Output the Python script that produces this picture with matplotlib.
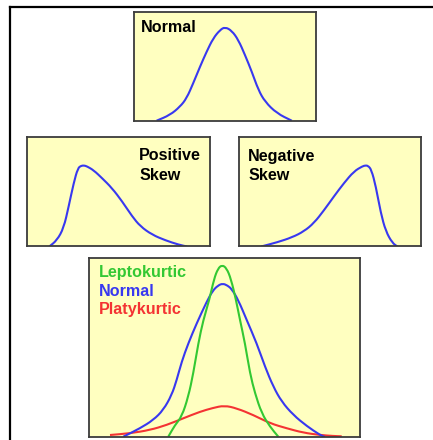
import matplotlib
matplotlib.use("Agg")
import matplotlib.pyplot as plt
from matplotlib.lines import Line2D
from matplotlib.path import Path
from matplotlib.patches import PathPatch

W, H = 433, 440
DPI = 100

# ---- data (x in arbitrary spread units, y relative height) ----
normal_x = [-3.42, -2.75, -2.25, -1.92, -1.59, -1.25, -0.92, -0.59, -0.25, 0.0, 0.34,
            0.67, 1.0, 1.34, 1.67, 2.0, 2.59, 3.34]
normal_y = [0.003, 0.06, 0.143, 0.227, 0.377, 0.543, 0.693, 0.827, 0.91, 0.94, 0.903,
            0.81, 0.66, 0.493, 0.31, 0.193, 0.077, 0.003]

pos_x = [-3.46, -3.08, -2.74, -2.49, -2.24, -2.03, -1.86, -1.72, -1.58, -1.24, -0.83, -0.33,
         0.18, 0.68, 1.09, 1.68, 2.34, 3.01, 3.43]
pos_y = [0.0, 0.062, 0.185, 0.402, 0.635, 0.785, 0.808, 0.81, 0.802, 0.762, 0.685, 0.585,
         0.452, 0.302, 0.202, 0.118, 0.062, 0.018, 0.0]

neg_x = [-3.44, -2.64, -1.89, -1.30, -0.80, -0.30, 0.20, 0.70, 1.20, 1.62, 1.76, 1.90, 2.07,
         2.29, 2.54, 2.79, 3.12, 3.37]
neg_y = [0.0, 0.042, 0.092, 0.152, 0.235, 0.362, 0.502, 0.635, 0.752, 0.802, 0.81, 0.808,
         0.768, 0.602, 0.335, 0.152, 0.035, 0.0]

lepto_x = [-2.81, -2.475, -2.14, -1.81, -1.56, -1.31, -1.06, -0.76, -0.525, -0.325, -0.125,
           0.1, 0.325, 0.575, 0.775, 1.025, 1.275, 1.525, 1.86, 2.275, 2.69]
lepto_y = [0.003, 0.12, 0.203, 0.403, 0.637, 0.937, 1.17, 1.37, 1.58, 1.685, 1.72, 1.69,
           1.58, 1.37, 1.17, 0.937, 0.637, 0.437, 0.237, 0.103, 0.003]

meso_x = [-5.06, -4.225, -3.56, -3.06, -2.64, -2.39, -2.14, -1.81, -1.39, -0.89, -0.59,
          -0.325, -0.09, 0.15, 0.36, 0.69, 1.11, 1.61, 2.025, 2.44, 2.86, 3.44, 4.11, 4.775,
          5.025]
meso_y = [0.003, 0.087, 0.17, 0.27, 0.42, 0.57, 0.753, 0.937, 1.137, 1.353, 1.463, 1.515,
          1.535, 1.515, 1.48, 1.37, 1.17, 0.937, 0.703, 0.503, 0.353, 0.22, 0.11, 0.02, 0.0]

platy_x = [-5.725, -4.725, -3.725, -2.89, -2.06, -1.225, -0.59, -0.01, 0.61, 1.44, 2.275,
           3.11, 3.94, 4.775, 5.44, 5.86]
platy_y = [0.02, 0.037, 0.07, 0.12, 0.187, 0.253, 0.29, 0.315, 0.287, 0.22, 0.137, 0.087,
           0.043, 0.02, 0.01, 0.007]

titles = ["Normal", "Positive", "Skew", "Negative", "Skew"]
legend_labels = ["Leptokurtic", "Normal", "Platykurtic"]

# ---- styles ----
FACE = "#FFFFC0"
EDGE = "#3c3c3c"
BLUE = "#3838F0"
GREEN = "#33C833"
RED = "#F43333"
LW = 1.5
FONT = dict(family=["Liberation Sans", "DejaVu Sans"], fontweight="bold", fontsize=11.6)

fig = plt.figure(figsize=(W / DPI, H / DPI), dpi=DPI)
fig.patch.set_facecolor("white")


def box(x0, y0, x1, y1, xlim, ylim):
    ax = fig.add_axes([x0 / W, 1 - y1 / H, (x1 - x0) / W, (y1 - y0) / H])
    ax.set_facecolor(FACE)
    ax.set_xlim(*xlim)
    ax.set_ylim(*ylim)
    ax.set_xticks([])
    ax.set_yticks([])
    for s in ax.spines.values():
        s.set_color(EDGE)
        s.set_linewidth(1.3)
    return ax


def smooth_curve(ax, xs, ys, color):
    """Draw a curve through the read points, rounding the corners with quadratic Beziers."""
    pts = list(zip(xs, ys))
    verts = [pts[0]]
    codes = [Path.MOVETO]
    mids = [((pts[i][0] + pts[i + 1][0]) / 2, (pts[i][1] + pts[i + 1][1]) / 2)
            for i in range(len(pts) - 1)]
    verts.append(mids[0])
    codes.append(Path.LINETO)
    for i in range(1, len(pts) - 1):
        verts += [pts[i], mids[i]]
        codes += [Path.CURVE3, Path.CURVE3]
    verts.append(pts[-1])
    codes.append(Path.LINETO)
    patch = PathPatch(Path(verts, codes), facecolor="none", edgecolor=color, lw=LW,
                      joinstyle="round", capstyle="butt")
    ax.add_patch(patch)


def ftext(x, y, s, color="black"):
    fig.text(x / W, 1 - y / H, s, color=color, ha="left", va="baseline", **FONT)


# outer frame lines
fig.add_artist(Line2D([10 / W, 1.0], [1 - 7 / H, 1 - 7 / H], color="black", lw=1.6,
                      transform=fig.transFigure))
fig.add_artist(Line2D([10 / W, 10 / W], [1 - 7 / H, 0.0], color="black", lw=1.6,
                      transform=fig.transFigure))

ax1 = box(134, 12, 316, 121, (-4.55, 4.55), (0, 1.09))
smooth_curve(ax1, normal_x, normal_y, BLUE)

ax2 = box(27, 137.5, 210, 246.5, (-4.575, 4.575), (0, 1.09))
smooth_curve(ax2, pos_x, pos_y, BLUE)

ax3 = box(239, 137.5, 421, 246.5, (-4.55, 4.55), (0, 1.09))
smooth_curve(ax3, neg_x, neg_y, BLUE)

ax4 = box(89, 258, 360, 437, (-6.775, 6.775), (0, 1.79))
smooth_curve(ax4, platy_x, platy_y, RED)
smooth_curve(ax4, meso_x, meso_y, BLUE)
smooth_curve(ax4, lepto_x, lepto_y, GREEN)

ftext(141, 32.3, titles[0])
ftext(139.3, 160.5, titles[1])
ftext(139.3, 179.5, titles[2])
ftext(248.3, 160.5, titles[3])
ftext(248.3, 179.5, titles[4])

ftext(99.3, 277.3, legend_labels[0], GREEN)
ftext(99.3, 295.7, legend_labels[1], BLUE)
ftext(99.3, 314.0, legend_labels[2], RED)

fig.savefig("out.png", dpi=DPI)
